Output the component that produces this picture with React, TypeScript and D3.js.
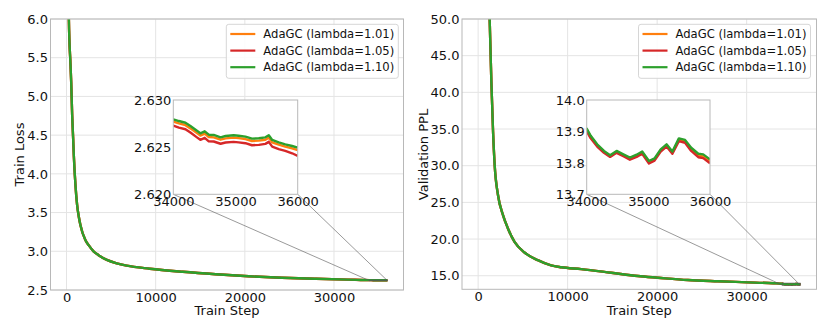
import React, { useEffect, useRef } from 'react';
import * as d3 from 'd3';

// ---- data ----
const seriesLabels = ['AdaGC (lambda=1.01)', 'AdaGC (lambda=1.05)', 'AdaGC (lambda=1.10)'];
const seriesColors = ['#ff7f0e', '#d62728', '#2ca02c'];

// train loss, early part (the three runs overlap here)
const trainHeadSteps = [0, 100, 200, 260, 444, 520, 630, 740, 815, 1000, 1185, 1370, 1555, 2110, 2480, 3030, 3590, 4520, 5630, 6740, 9330, 13030, 16740, 20440, 24150, 27850, 31560, 33000];
const trainHeadLoss = [10.9, 8.6, 6.9, 6.0, 5.41, 5.19, 4.76, 4.46, 4.24, 3.855, 3.6, 3.45, 3.34, 3.145, 3.08, 3.0, 2.95, 2.89, 2.845, 2.815, 2.775, 2.735, 2.703, 2.677, 2.659, 2.646, 2.634, 2.63];

// train loss, zoomed tail
const trainTailSteps = [34000, 34090, 34195, 34275, 34380, 34435, 34505, 34570, 34650, 34760, 34840, 34970, 35050, 35160, 35265, 35375, 35480, 35535, 35590, 35695, 35800, 35910, 36000];
const trainTail101 = [2.6277, 2.62752, 2.62733, 2.62699, 2.62649, 2.62622, 2.62643, 2.62607, 2.62604, 2.62579, 2.62593, 2.62601, 2.62596, 2.62586, 2.62565, 2.62569, 2.62579, 2.62601, 2.62551, 2.62526, 2.62505, 2.62487, 2.62468];
const trainTail105 = [2.62728, 2.62707, 2.6269, 2.62655, 2.62604, 2.62578, 2.62599, 2.62562, 2.6256, 2.62536, 2.62549, 2.62556, 2.62551, 2.62542, 2.6252, 2.62524, 2.62535, 2.62556, 2.62505, 2.6248, 2.6246, 2.62435, 2.62408];
const trainTail110 = [2.62795, 2.62777, 2.62759, 2.62724, 2.62674, 2.62647, 2.62668, 2.62632, 2.62629, 2.62604, 2.62618, 2.62626, 2.62621, 2.62611, 2.6259, 2.62594, 2.62604, 2.62626, 2.62576, 2.62551, 2.6253, 2.62512, 2.62494];

// validation ppl, early part
const valHeadSteps = [1000, 1290, 1480, 1670, 1850, 2220, 2780, 3330, 4070, 5180, 6670, 8150, 9290, 11520, 14870, 17850, 20080, 23430, 26780, 30130, 33000];
const valHeadPpl = [62, 50, 41.45, 34.63, 30.08, 26.0, 23.26, 21.45, 19.62, 18.17, 17.12, 16.4, 16.15, 15.9, 15.41, 14.96, 14.73, 14.41, 14.24, 14.1, 13.97];

// validation ppl, zoomed tail
const valTailSteps = [34000, 34065, 34170, 34280, 34380, 34485, 34595, 34700, 34810, 34900, 35010, 35100, 35200, 35295, 35390, 35495, 35595, 35695, 35810, 35890, 36000];
const valTail101 = [13.906, 13.883, 13.856, 13.835, 13.821, 13.835, 13.824, 13.814, 13.823, 13.833, 13.803, 13.811, 13.84, 13.856, 13.833, 13.874, 13.869, 13.843, 13.823, 13.821, 13.805];
const valTail105 = [13.9, 13.878, 13.852, 13.832, 13.819, 13.832, 13.821, 13.81, 13.819, 13.829, 13.798, 13.807, 13.836, 13.852, 13.829, 13.869, 13.864, 13.838, 13.818, 13.815, 13.799];
const valTail110 = [13.909, 13.886, 13.859, 13.838, 13.8245, 13.838, 13.827, 13.817, 13.826, 13.836, 13.806, 13.814, 13.843, 13.859, 13.836, 13.878, 13.873, 13.848, 13.829, 13.827, 13.811];

const mainXTicks = [0, 10000, 20000, 30000];
const trainYTicks = [2.5, 3.0, 3.5, 4.0, 4.5, 5.0, 5.5, 6.0];
const valYTicks = [15, 20, 25, 30, 35, 40, 45, 50];
const insetXTicks = [34000, 35000, 36000];
const trainInsetYTicks = [2.62, 2.625, 2.63];
const valInsetYTicks = [13.7, 13.8, 13.9, 14.0];

const FONT = 'DejaVu Sans, sans-serif';

const buildSeries = (headSteps, headVals, tailSteps, tails) =>
  tails.map(tail => ({
    steps: headSteps.concat(tailSteps),
    vals: headVals.concat(tail),
  }));

const drawPanel = (svg, o) => {
  const g = svg.append('g');
  const x = d3.scaleLinear().domain([-1800, 37800]).range([o.left, o.right]);
  const y = d3.scaleLinear().domain(o.yDomain).range([o.bottom, o.top]);

  // grid
  g.append('g').selectAll('line').data(mainXTicks).enter().append('line')
    .attr('x1', d => x(d)).attr('x2', d => x(d))
    .attr('y1', o.top).attr('y2', o.bottom)
    .attr('stroke', '#e4e4e4').attr('stroke-width', 1);
  g.append('g').selectAll('line').data(o.yTicks).enter().append('line')
    .attr('x1', o.left).attr('x2', o.right)
    .attr('y1', d => y(d)).attr('y2', d => y(d))
    .attr('stroke', '#e4e4e4').attr('stroke-width', 1);

  // curves
  const clipId = `clip-${o.id}`;
  svg.append('clipPath').attr('id', clipId).append('rect')
    .attr('x', o.left).attr('y', o.top)
    .attr('width', o.right - o.left).attr('height', o.bottom - o.top);
  const line = d3.line().x(d => x(d[0])).y(d => y(d[1])).curve(d3.curveMonotoneX);
  o.series.forEach((s, i) => {
    g.append('path')
      .attr('clip-path', `url(#${clipId})`)
      .attr('d', line(s.steps.map((st, k) => [st, s.vals[k]])))
      .attr('fill', 'none').attr('stroke', seriesColors[i])
      .attr('stroke-width', 2.4).attr('stroke-linejoin', 'round');
  });

  // frame
  g.append('rect')
    .attr('x', o.left).attr('y', o.top)
    .attr('width', o.right - o.left).attr('height', o.bottom - o.top)
    .attr('fill', 'none').attr('stroke', '#b8b8b8').attr('stroke-width', 1);

  // axes
  const xAxis = g.append('g').attr('transform', `translate(0,${o.bottom})`)
    .call(d3.axisBottom(x).tickValues(mainXTicks).tickSize(0).tickPadding(2.5).tickFormat(d3.format('d')));
  const yAxis = g.append('g').attr('transform', `translate(${o.left},0)`)
    .call(d3.axisLeft(y).tickValues(o.yTicks).tickSize(0).tickPadding(2.5).tickFormat(d3.format('.1f')));
  [xAxis, yAxis].forEach(a => {
    a.select('.domain').remove();
    a.attr('font-family', FONT).attr('font-size', 13);
    a.selectAll('text').attr('fill', '#111');
  });

  g.append('text')
    .attr('x', (o.left + o.right) / 2).attr('y', 314.5)
    .attr('text-anchor', 'middle').attr('font-family', FONT).attr('font-size', 13).attr('fill', '#111')
    .text('Train Step');
  g.append('text')
    .attr('transform', `translate(${o.yLabelX},154.5) rotate(-90)`)
    .attr('text-anchor', 'middle').attr('font-family', FONT).attr('font-size', 13).attr('fill', '#111')
    .text(o.yLabel);

  // inset
  const ins = o.inset;
  const ix = d3.scaleLinear().domain([34000, 36000]).range([ins.left, ins.right]);
  const iy = d3.scaleLinear().domain(ins.yDomain).range([ins.bottom, ins.top]);

  // zoom indicator + connectors
  g.append('rect')
    .attr('x', x(34000)).attr('y', y(ins.yDomain[1]))
    .attr('width', x(36000) - x(34000)).attr('height', Math.max(0.5, y(ins.yDomain[0]) - y(ins.yDomain[1])))
    .attr('fill', 'none').attr('stroke', '#555').attr('stroke-width', 0.6);
  g.append('line')
    .attr('x1', ins.left).attr('y1', ins.bottom)
    .attr('x2', x(34000)).attr('y2', y(ins.yDomain[0]))
    .attr('stroke', '#555').attr('stroke-width', 0.6);
  g.append('line')
    .attr('x1', ins.right).attr('y1', ins.bottom)
    .attr('x2', x(36000)).attr('y2', y(ins.yDomain[0]))
    .attr('stroke', '#555').attr('stroke-width', 0.6);

  g.append('rect')
    .attr('x', ins.left).attr('y', ins.top)
    .attr('width', ins.right - ins.left).attr('height', ins.bottom - ins.top)
    .attr('fill', 'white');

  const insClip = `clip-ins-${o.id}`;
  svg.append('clipPath').attr('id', insClip).append('rect')
    .attr('x', ins.left).attr('y', ins.top)
    .attr('width', ins.right - ins.left).attr('height', ins.bottom - ins.top);
  const iline = d3.line().x(d => ix(d[0])).y(d => iy(d[1]));
  o.series.forEach((s, i) => {
    g.append('path')
      .attr('clip-path', `url(#${insClip})`)
      .attr('d', iline(s.steps.map((st, k) => [st, s.vals[k]])))
      .attr('fill', 'none').attr('stroke', seriesColors[i])
      .attr('stroke-width', 2.4).attr('stroke-linejoin', 'round');
  });
  g.append('rect')
    .attr('x', ins.left).attr('y', ins.top)
    .attr('width', ins.right - ins.left).attr('height', ins.bottom - ins.top)
    .attr('fill', 'none').attr('stroke', '#b8b8b8').attr('stroke-width', 1);

  const ixAxis = g.append('g').attr('transform', `translate(0,${ins.bottom})`)
    .call(d3.axisBottom(ix).tickValues(insetXTicks).tickSize(0).tickPadding(2.5).tickFormat(d3.format('d')));
  const iyAxis = g.append('g').attr('transform', `translate(${ins.left},0)`)
    .call(d3.axisLeft(iy).tickValues(ins.yTicks).tickSize(0).tickPadding(2).tickFormat(d3.format(ins.yFmt)));
  [ixAxis, iyAxis].forEach(a => {
    a.select('.domain').remove();
    a.attr('font-family', FONT).attr('font-size', 13);
    a.selectAll('text').attr('fill', '#111');
  });

  // legend
  const lg = g.append('g');
  lg.append('rect')
    .attr('x', o.legendX).attr('y', 24.3).attr('width', 172).attr('height', 54)
    .attr('rx', 2.5).attr('fill', 'white').attr('fill-opacity', 0.85)
    .attr('stroke', '#d6d6d6').attr('stroke-width', 1);
  seriesLabels.forEach((lab, i) => {
    const ly = 34 + i * 16.6;
    lg.append('line')
      .attr('x1', o.legendX + 4).attr('x2', o.legendX + 29)
      .attr('y1', ly).attr('y2', ly)
      .attr('stroke', seriesColors[i]).attr('stroke-width', 2.2);
    lg.append('text')
      .attr('x', o.legendX + 37).attr('y', ly).attr('dy', '0.36em')
      .attr('font-family', FONT).attr('font-size', 11.6).attr('fill', '#111')
      .text(lab);
  });
};

const App = () => {
  const svgRef = useRef(null);

  useEffect(() => {
    const svg = d3.select(svgRef.current);
    svg.selectAll('*').remove();

    drawPanel(svg, {
      id: 'loss',
      left: 50.5, right: 403.5, top: 19, bottom: 290,
      yDomain: [2.5, 6.0], yTicks: trainYTicks,
      yLabel: 'Train Loss', yLabelX: 23.5,
      legendX: 226.3,
      series: buildSeries(trainHeadSteps, trainHeadLoss, trainTailSteps, [trainTail101, trainTail105, trainTail110]),
      inset: { left: 173.3, right: 297.7, top: 100, bottom: 194.3, yDomain: [2.62, 2.63], yTicks: trainInsetYTicks, yFmt: '.3f' },
    });

    drawPanel(svg, {
      id: 'ppl',
      left: 462, right: 816.5, top: 19, bottom: 289.3,
      yDomain: [13.15, 50], yTicks: valYTicks,
      yLabel: 'Validation PPL', yLabelX: 427.5,
      legendX: 638.5,
      series: buildSeries(valHeadSteps, valHeadPpl, valTailSteps, [valTail101, valTail105, valTail110]),
      inset: { left: 586.7, right: 710, top: 100, bottom: 194.3, yDomain: [13.7, 14.0], yTicks: valInsetYTicks, yFmt: '.1f' },
    });
  }, []);

  return (
    <div style={{ position: 'absolute', left: 0, top: 0, width: 830, height: 332, background: 'white' }}>
      <svg ref={svgRef} width={830} height={332} style={{ display: 'block' }} />
    </div>
  );
};

export default App;
